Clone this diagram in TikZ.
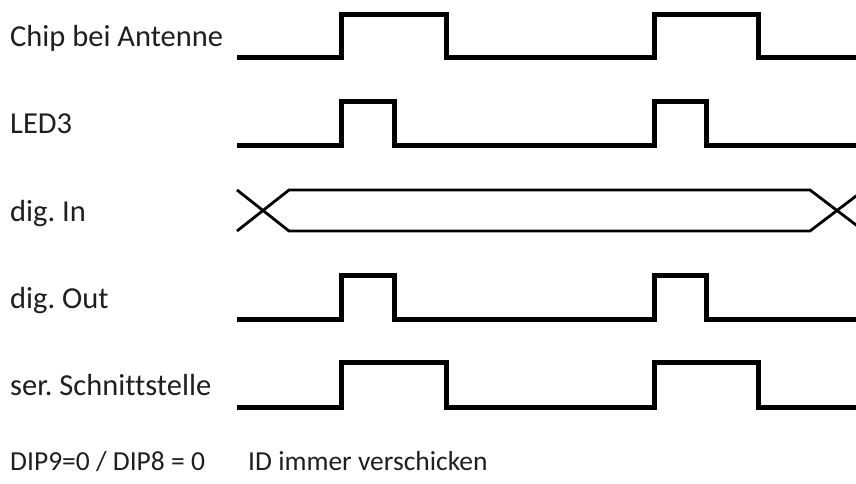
\documentclass[tikz,border=0pt]{standalone}
\usepackage{fontspec}
\setmainfont{Carlito}[Ligatures=NoCommon]
\frenchspacing
\begin{document}
\begin{tikzpicture}[x=1pt,y=-1pt,
  label/.style={anchor=base west,inner sep=0pt,font=\fontsize{30.5}{36}\selectfont,text=black!88},
  note/.style={label,font=\fontsize{27.5}{32}\selectfont},
  wave/.style={line width=5pt,line join=miter,line cap=butt},
  bus/.style={line width=2.8pt,line join=miter,line cap=butt}]
\useasboundingbox (0,0) rectangle (856,484);
\fill[white] (0,0) rectangle (856,484);

% signal names
\node[label] (chip) at (10,47)  {Chip bei Antenne};
\node[label] (led)  at (10,134) {LED3};
\node[label] (din)  at (10,221) {dig. In};
\node[label] (dout) at (10,308) {dig. Out};
\node[label] (ser)  at (10,395) {ser. Schnittstelle};
\node[note]  (dip)  at (10,470) {DIP9=0 / DIP8 = 0};
\node[note]  (id)   at (248,470) {ID immer verschicken};

% long pulses: chip at antenna
\draw[wave] (237,58) -- (341,58) -- (341,14.5) -- (446,14.5) -- (446,58)
  -- (654,58) -- (654,14.5) -- (758.5,14.5) -- (758.5,58) -- (860,58);
% short pulses: LED3
\draw[wave] (237,145) -- (341,145) -- (341,101.5) -- (394,101.5) -- (394,145)
  -- (654,145) -- (654,101.5) -- (706.5,101.5) -- (706.5,145) -- (860,145);
% digital input: valid bus between two transitions
\draw[bus] (237,190) -- (289,231) -- (810,231) -- (864,190);
\draw[bus] (237,231) -- (289,190) -- (810,190) -- (864,231);
% short pulses: digital output
\draw[wave] (237,319) -- (341,319) -- (341,275.5) -- (394,275.5) -- (394,319)
  -- (654,319) -- (654,275.5) -- (706.5,275.5) -- (706.5,319) -- (860,319);
% long pulses: serial interface
\draw[wave] (237,407) -- (341,407) -- (341,362.5) -- (446,362.5) -- (446,407)
  -- (654,407) -- (654,362.5) -- (758.5,362.5) -- (758.5,407) -- (860,407);
\end{tikzpicture}
\end{document}
